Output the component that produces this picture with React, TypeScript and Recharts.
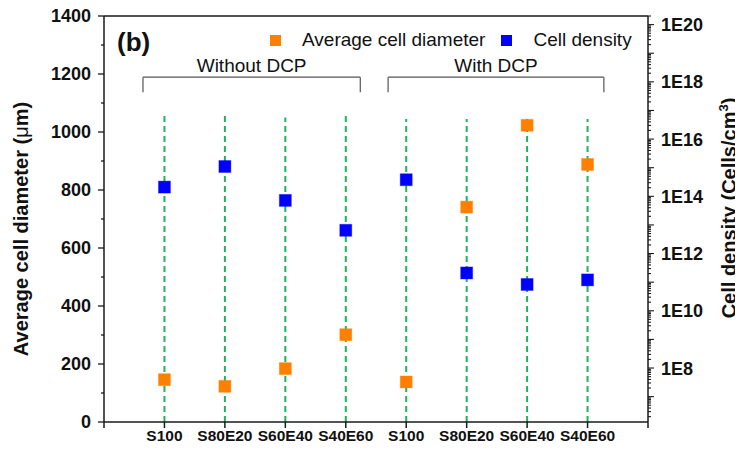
import {
  Legend,
  ReferenceLine,
  Scatter,
  ScatterChart,
  XAxis,
  YAxis,
} from "recharts";

const FONT = "'Liberation Sans', Arial, sans-serif";
const AXIS_COLOR = "#1a1a1a";

// samples, in the order they appear along the x axis
const samples = ["S100", "S80E20", "S60E40", "S40E60", "S100", "S80E20", "S60E40", "S40E60"];
// average cell diameter (µm), left axis
const diameter = [146, 123, 184, 301, 138, 741, 1023, 888];
// cell density (cells/cm3), right log axis
const density = [2.1e14, 1.1e15, 7.2e13, 6.5e12, 3.8e14, 2.1e11, 8.3e10, 1.2e11];
// where the green dashed guide of each sample stops (left axis units)
const guideTops = [1068, 1068, 1050, 1068, 1045, 1045, 1045, 1045];

// group brackets above the points
const groupLabels = ["Without DCP", "With DCP"];
const groupStart = [0.645, 4.7];
const groupEnd = [4.24, 8.27];
const bracketTop = 1189;
const bracketFoot = 1137;

const diameterTicks = [0, 200, 400, 600, 800, 1000, 1200, 1400];
const densityTickValues = [1e8, 1e10, 1e12, 1e14, 1e16, 1e18, 1e20];
const densityTickLabels = ["1E8", "1E10", "1E12", "1E14", "1E16", "1E18", "1E20"];

const orangeData = samples.map((name, i) => ({ x: i + 1, y: diameter[i], name }));
const blueData = samples.map((name, i) => ({ x: i + 1, y: density[i], name }));

// left axis: a tick every 100, labelled every 200
const leftTicks: number[] = [];
for (let v = 0; v <= 1400; v += 100) leftTicks.push(v);

// right axis: log ticks, 1..9 in every decade
const rightTicks: number[] = [];
for (let e = 6; e <= 20; e++) {
  for (let m = 1; m <= 9; m++) {
    const v = m * Math.pow(10, e);
    if (v >= 1.3e6 && v <= 2e20) rightTicks.push(v);
  }
}

function Square(props: any) {
  const { cx, cy, fill } = props;
  if (cx == null || cy == null) return null;
  return (
    <rect
      x={cx - 6}
      y={cy - 6}
      width={12}
      height={12}
      fill={fill}
      stroke={fill}
      strokeOpacity={0.35}
      strokeWidth={1}
    />
  );
}

function LeftTick(props: any) {
  const { x, y, payload } = props;
  const v = payload.value;
  const major = diameterTicks.includes(v);
  return (
    <g>
      <line x1={x} x2={x - (major ? 6 : 3)} y1={y} y2={y} stroke={AXIS_COLOR} strokeWidth={1.3} />
      {major && (
        <text
          x={x - 13}
          y={y}
          dy="0.36em"
          textAnchor="end"
          fontFamily={FONT}
          fontWeight="bold"
          fontSize={18}
          fill="#111"
        >
          {v}
        </text>
      )}
    </g>
  );
}

function RightTick(props: any) {
  const { x, y, payload } = props;
  const v = payload.value;
  const exp = Math.log10(v);
  const major = Math.abs(exp - Math.round(exp)) < 1e-6;
  const idx = densityTickValues.findIndex((t) => Math.abs(Math.log10(t) - exp) < 1e-6);
  return (
    <g>
      <line x1={x} x2={x + (major ? 6 : 3)} y1={y} y2={y} stroke={AXIS_COLOR} strokeWidth={1.1} />
      {idx >= 0 && (
        <text
          x={x + 13}
          y={y}
          dy="0.36em"
          textAnchor="start"
          fontFamily={FONT}
          fontWeight="bold"
          fontSize={18}
          fill="#111"
        >
          {densityTickLabels[idx]}
        </text>
      )}
    </g>
  );
}

function SampleTick(props: any) {
  const { x, y, payload } = props;
  const label = samples[payload.value - 1];
  if (!label) return null;
  return (
    <text
      x={x}
      y={y}
      dy="0.71em"
      textAnchor="middle"
      fontFamily={FONT}
      fontWeight="bold"
      fontSize={15.5}
      fill="#111"
    >
      {label}
    </text>
  );
}

function LeftTitle() {
  return (
    <text
      x={21}
      y={229}
      transform="rotate(-90, 21, 229)"
      dy="0.36em"
      textAnchor="middle"
      fontFamily={FONT}
      fontWeight="bold"
      fontSize={20}
      fill="#111"
    >
      Average cell diameter (<tspan fontWeight="normal">μ</tspan>m)
    </text>
  );
}

function RightTitle() {
  return (
    <text
      x={729}
      y={208}
      transform="rotate(-90, 729, 208)"
      dy="0.36em"
      textAnchor="middle"
      fontFamily={FONT}
      fontWeight="bold"
      fontSize={20}
      fill="#111"
    >
      Cell density (Cells/cm
      <tspan dy={-8} fontSize={13}>3</tspan>
      <tspan dy={8}>)</tspan>
    </text>
  );
}

function LegendBox(props: any) {
  const items = props.payload || [];
  return (
    <div style={{ display: "flex", alignItems: "center", fontFamily: FONT, fontSize: 19, color: "#111" }}>
      {items.map((item: any, i: number) => (
        <div key={i} style={{ display: "flex", alignItems: "center", marginRight: i === 0 ? 16 : 0 }}>
          <span
            style={{
              display: "inline-block",
              width: 11,
              height: 11,
              background: item.color,
              marginRight: 21,
            }}
          />
          <span>{item.value}</span>
        </div>
      ))}
    </div>
  );
}

export default function App() {
  return (
    <div style={{ position: "relative", width: 743, height: 453, marginLeft: -8, marginTop: -8, background: "#fff" }}>
      <ScatterChart width={743} height={453} margin={{ top: 16, right: 0, bottom: 0, left: 0 }}>
        <XAxis
          type="number"
          dataKey="x"
          domain={[0, 9]}
          ticks={[0, 1, 2, 3, 4, 5, 6, 7, 8, 9]}
          interval={0}
          height={31}
          stroke={AXIS_COLOR}
          strokeWidth={1.5}
          tickSize={6}
          tickMargin={2}
          tick={<SampleTick />}
          allowDataOverflow
        />
        <YAxis
          yAxisId="left"
          type="number"
          dataKey="y"
          domain={[0, 1400]}
          ticks={leftTicks}
          interval={0}
          width={104}
          stroke={AXIS_COLOR}
          strokeWidth={1.5}
          tickLine={false}
          tickSize={0}
          tickMargin={0}
          tick={<LeftTick />}
          label={<LeftTitle />}
          allowDataOverflow
        />
        <YAxis
          yAxisId="right"
          orientation="right"
          type="number"
          dataKey="y"
          scale="log"
          domain={[1.3e6, 2e20]}
          ticks={rightTicks}
          interval={0}
          width={95}
          stroke={AXIS_COLOR}
          strokeWidth={1.5}
          tickLine={false}
          tickSize={0}
          tickMargin={0}
          tick={<RightTick />}
          label={<RightTitle />}
          allowDataOverflow
        />
        <Legend
          layout="horizontal"
          verticalAlign="middle"
          align="center"
          content={<LegendBox />}
          wrapperStyle={{ position: "absolute", top: 29, left: 270, width: 440, height: 24 }}
        />
        <ReferenceLine yAxisId="left" y={1400} stroke={AXIS_COLOR} strokeWidth={1.5} />
        <Scatter
          name="Average cell diameter"
          yAxisId="left"
          data={orangeData}
          fill="#ff8000"
          shape={<Square />}
          isAnimationActive={false}
        />
        <Scatter
          name="Cell density"
          yAxisId="right"
          data={blueData}
          fill="#0000ff"
          shape={<Square />}
          isAnimationActive={false}
        />
        {guideTops.map((top, i) => (
          <ReferenceLine
            key={`guide-${i}`}
            yAxisId="left"
            segment={[
              { x: i + 1, y: 0 },
              { x: i + 1, y: top },
            ]}
            stroke="#1fb45a"
            strokeWidth={2}
            strokeDasharray="6 4"
          />
        ))}
        {groupLabels.map((label, g) => [
          <ReferenceLine
            key={`bl-${g}`}
            yAxisId="left"
            segment={[
              { x: groupStart[g], y: bracketFoot },
              { x: groupStart[g], y: bracketTop },
            ]}
            stroke="#555"
            strokeWidth={1.2}
          />,
          <ReferenceLine
            key={`bt-${g}`}
            yAxisId="left"
            segment={[
              { x: groupStart[g], y: bracketTop },
              { x: groupEnd[g], y: bracketTop },
            ]}
            stroke="#555"
            strokeWidth={1.2}
            label={{ value: label, position: "top", offset: 5, fontSize: 19, fill: "#111", fontFamily: FONT }}
          />,
          <ReferenceLine
            key={`br-${g}`}
            yAxisId="left"
            segment={[
              { x: groupEnd[g], y: bracketTop },
              { x: groupEnd[g], y: bracketFoot },
            ]}
            stroke="#555"
            strokeWidth={1.2}
          />,
        ])}
      </ScatterChart>
      <div
        style={{
          position: "absolute",
          left: 117,
          top: 27,
          fontFamily: FONT,
          fontWeight: "bold",
          fontSize: 26,
          color: "#111",
          lineHeight: "30px",
        }}
      >
        (b)
      </div>
    </div>
  );
}
